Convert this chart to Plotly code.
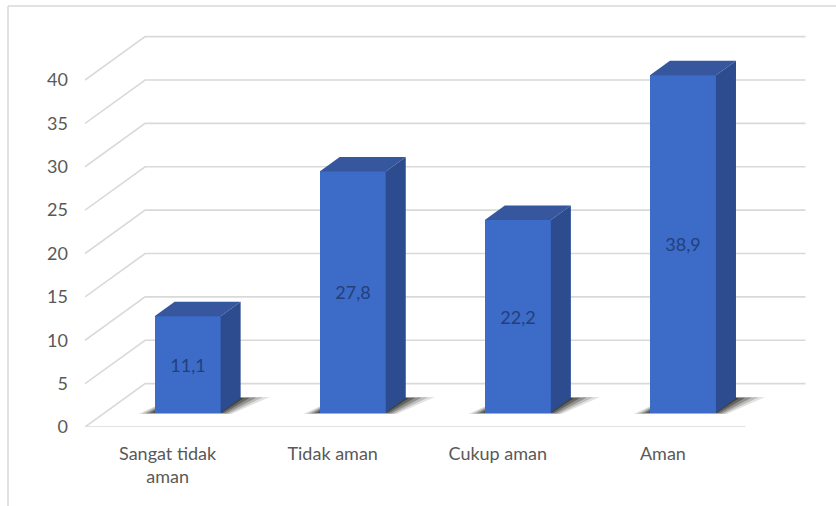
import plotly.graph_objects as go

# Data
categories = ["Sangat tidak<br>aman", "Tidak aman", "Cukup aman", "Aman"]
values = [11.1, 27.8, 22.2, 38.9]
y_ticks = [0, 5, 10, 15, 20, 25, 30, 35, 40]

# 3D box geometry (axis units)
DEPTH_X = 0.364   # horizontal run of the floor depth, in category units
DEPTH_Y = 5.0     # vertical rise of the floor depth, in value units
BAR_W = 0.4
X_LO, X_HI = -0.5, 3.5

DX1, DY1 = DEPTH_X / 3, DEPTH_Y / 3          # bar front plane offset

FRONT = "#3d6bc8"
TOP = "#36569e"
SIDE = "#2c4c8f"
GRID = "#d9d9d9"
TEXT = "#595959"
FONT = "Lato, Carlito, Calibri, sans-serif"

fig = go.Figure()

# Back wall + floor grid: diagonal on the left side wall, horizontal on the back wall
gx, gy = [], []
for v in y_ticks:
    gx += [X_LO, X_LO + DEPTH_X, X_HI + DEPTH_X, None]
    gy += [v, v + DEPTH_Y, v + DEPTH_Y, None]
# floor front edge
gx += [X_LO, X_HI, None]
gy += [0, 0, None]
fig.add_trace(go.Scatter(x=gx, y=gy, mode="lines",
                         line=dict(color=GRID, width=1.6),
                         hoverinfo="skip", showlegend=False,
                         xaxis="x", yaxis="y"))

# Soft floor shadows under each bar (stacked translucent layers)
for i, v in enumerate(values):
    xl = i + DX1 - BAR_W / 2
    xr = i + DX1 + BAR_W / 2
    b = DY1
    for grow, alpha in [(0.11, 0.12), (0.085, 0.18), (0.06, 0.26), (0.035, 0.34), (0.012, 0.42)]:
        sx = [xl - grow * 0.9, xr + grow * 0.6, xr + DX1 + grow * 1.6, xl + DX1, xl - grow * 0.9]
        sy = [b - 1.6 * grow, b - 1.6 * grow, b + DY1 + 1.2 * grow, b + DY1 + 1.2 * grow, b - 1.6 * grow]
        fig.add_trace(go.Scatter(x=sx, y=sy, mode="lines", fill="toself",
                                 fillcolor=f"rgba(20,20,15,{alpha})",
                                 line=dict(width=0), hoverinfo="skip",
                                 showlegend=False, xaxis="x", yaxis="y"))

# Bar front faces
xpos = [i + DX1 for i in range(len(values))]
fig.add_trace(go.Bar(
    x=xpos, y=values, base=DY1, width=BAR_W,
    marker=dict(color=FRONT, line=dict(width=0)),
    text=[f"{v:.1f}".replace(".", ",") for v in values],
    textposition="inside", insidetextanchor="middle", textangle=0,
    textfont=dict(color="#23407a", size=18, family=FONT),
    hoverinfo="skip", showlegend=False,
    xaxis="x2", yaxis="y2",
))

# Top and side faces
for i, v in enumerate(values):
    xl = i + DX1 - BAR_W / 2
    xr = i + DX1 + BAR_W / 2
    b = DY1
    t = DY1 + v
    fig.add_trace(go.Scatter(
        x=[xl, xr, xr + DX1, xl + DX1, xl],
        y=[t, t, t + DY1, t + DY1, t],
        mode="lines", fill="toself", fillcolor=TOP,
        line=dict(width=0), hoverinfo="skip", showlegend=False,
        xaxis="x2", yaxis="y2"))
    fig.add_trace(go.Scatter(
        x=[xr, xr, xr + DX1, xr + DX1, xr],
        y=[b, t, t + DY1, b + DY1, b],
        mode="lines", fill="toself", fillcolor=SIDE,
        line=dict(width=0), hoverinfo="skip", showlegend=False,
        xaxis="x2", yaxis="y2"))

XR = [-0.5, 4.0]
YR = [0, 46]
L, R, T, B = 85, 8, 28, 79
W, H = 836, 506
pw, ph = W - L - R, H - T - B

fig.update_layout(
    width=W, height=H,
    margin=dict(l=L, r=R, t=T, b=B),
    paper_bgcolor="white", plot_bgcolor="rgba(0,0,0,0)",
    font=dict(family=FONT, color=TEXT),
    bargap=0,
    xaxis=dict(range=XR, tickvals=[0, 1, 2, 3], ticktext=categories,
               showgrid=False, zeroline=False, showline=False, ticks="",
               tickfont=dict(size=18, color=TEXT, family=FONT),
               ticklabelstandoff=14),
    yaxis=dict(range=YR, tickvals=y_ticks,
               showgrid=False, zeroline=False, showline=False, ticks="",
               tickfont=dict(size=18, color=TEXT, family=FONT),
               ticklabelstandoff=16),
    xaxis2=dict(range=XR, overlaying="x", visible=False),
    yaxis2=dict(range=YR, overlaying="y", visible=False),
    shapes=[
        # chart area frame (left and top edges)
        dict(type="line", xref="paper", yref="paper",
             x0=(8 - L) / pw, x1=(8 - L) / pw,
             y0=(T + ph - H - 5) / ph, y1=(T + ph - 6) / ph,
             line=dict(color=GRID, width=1.5)),
        dict(type="line", xref="paper", yref="paper",
             x0=(8 - L) / pw, x1=(W + 5 - L) / pw,
             y0=(T + ph - 6) / ph, y1=(T + ph - 6) / ph,
             line=dict(color=GRID, width=1.5)),
    ],
)

fig.write_html("out.html")
